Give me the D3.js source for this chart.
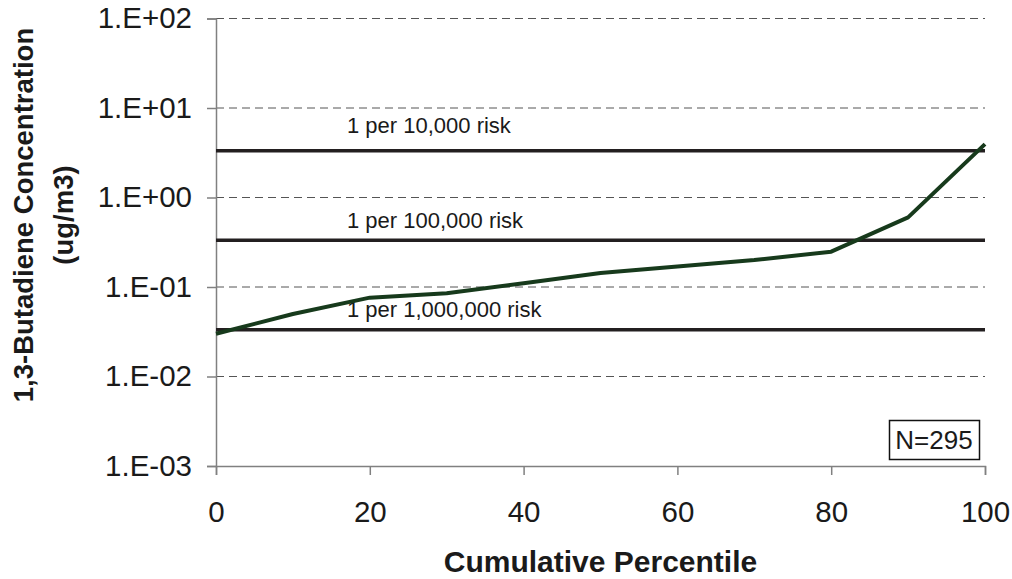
<!DOCTYPE html>
<html>
<head>
<meta charset="utf-8">
<script src="https://cdn.jsdelivr.net/npm/d3@7"></script>
<style>
  html, body { margin: 0; padding: 0; background: #fff; }
  svg { display: block; font-family: "Liberation Sans", Arial, sans-serif; }
</style>
</head>
<body>
<svg id="chart" width="1012" height="579"></svg>
<script>
// Cumulative distribution of 1,3-butadiene concentrations
const percentiles = [0, 10, 20, 30, 40, 50, 60, 70, 80, 90, 100];
const concentrations = [0.030, 0.050, 0.076, 0.085, 0.110, 0.143, 0.169, 0.200, 0.248, 0.60, 3.95];

// Cancer risk benchmark levels (ug/m3)
const riskLabels = ["1 per 10,000 risk", "1 per 100,000 risk", "1 per 1,000,000 risk"];
const riskLevels = [3.33, 0.333, 0.0333];
const riskLabelGap = [18, 12, 13];

const xTicks = [0, 20, 40, 60, 80, 100];
const yTicks = [1e-3, 1e-2, 1e-1, 1e0, 1e1, 1e2];
const yTickLabels = ["1.E-03", "1.E-02", "1.E-01", "1.E+00", "1.E+01", "1.E+02"];
const sampleNote = "N=295";

const svg = d3.select("#chart");
const plot = { left: 216, right: 985, top: 18.5, bottom: 466 };

const x = d3.scaleLinear().domain([0, 100]).range([plot.left, plot.right]);
const y = d3.scaleLog().domain([1e-3, 1e2]).range([plot.bottom, plot.top]);

// Dashed gridlines at each decade
svg.append("g")
  .selectAll("line")
  .data(yTicks.slice(1))
  .join("line")
  .attr("x1", plot.left).attr("x2", plot.right)
  .attr("y1", d => y(d)).attr("y2", d => y(d))
  .attr("stroke", "#555")
  .attr("stroke-width", 1)
  .attr("stroke-dasharray", "8,5");

// Y axis
const yAxis = svg.append("g")
  .attr("transform", `translate(${plot.left},0)`)
  .call(d3.axisLeft(y).tickValues(yTicks)
    .tickFormat((d, i) => yTickLabels[i]).tickSize(9).tickPadding(15));
yAxis.select(".domain").attr("stroke", "#808080").attr("stroke-width", 1.5);
yAxis.selectAll(".tick line").attr("stroke", "#808080").attr("stroke-width", 1.5);
yAxis.selectAll(".tick text")
  .attr("font-size", 29.5).attr("fill", "#1a1a1a")
  .attr("font-family", "Liberation Sans, Arial, sans-serif");

// X axis
const xAxis = svg.append("g")
  .attr("transform", `translate(0,${plot.bottom})`)
  .call(d3.axisBottom(x).tickValues(xTicks).tickSize(9).tickPadding(26));
xAxis.select(".domain").attr("stroke", "#808080").attr("stroke-width", 1.5);
xAxis.selectAll(".tick line").attr("stroke", "#808080").attr("stroke-width", 1.5);
xAxis.selectAll(".tick text")
  .attr("font-size", 29.5).attr("fill", "#1a1a1a")
  .attr("font-family", "Liberation Sans, Arial, sans-serif");

// Risk benchmark lines
svg.append("g")
  .selectAll("line")
  .data(riskLevels)
  .join("line")
  .attr("x1", plot.left).attr("x2", plot.right)
  .attr("y1", d => y(d)).attr("y2", d => y(d))
  .attr("stroke", "#231f20")
  .attr("stroke-width", 3.5);

svg.append("g")
  .selectAll("text")
  .data(riskLevels)
  .join("text")
  .attr("x", 347)
  .attr("y", (d, i) => y(d) - riskLabelGap[i])
  .attr("font-size", 22)
  .attr("fill", "#1a1a1a")
  .text((d, i) => riskLabels[i]);

// Concentration curve
const line = d3.line()
  .x((d, i) => x(percentiles[i]))
  .y(d => y(d));
svg.append("path")
  .datum(concentrations)
  .attr("d", line)
  .attr("fill", "none")
  .attr("stroke", "#173a1c")
  .attr("stroke-width", 4)
  .attr("stroke-linejoin", "round");

// Sample size box
svg.append("rect")
  .attr("x", 889.5).attr("y", 420.5)
  .attr("width", 90).attr("height", 39)
  .attr("fill", "#fff").attr("stroke", "#111").attr("stroke-width", 1.5);
svg.append("text")
  .attr("x", 934).attr("y", 449)
  .attr("text-anchor", "middle")
  .attr("font-size", 26)
  .attr("fill", "#1a1a1a")
  .text(sampleNote);

// Axis titles
svg.append("text")
  .attr("x", (plot.left + plot.right) / 2)
  .attr("y", 572)
  .attr("text-anchor", "middle")
  .attr("font-size", 30)
  .attr("font-weight", "bold")
  .attr("fill", "#1a1a1a")
  .text("Cumulative Percentile");

const yTitle = svg.append("text")
  .attr("transform", "translate(0,215) rotate(-90)")
  .attr("text-anchor", "middle")
  .attr("font-size", 27.5)
  .attr("font-weight", "bold")
  .attr("fill", "#1a1a1a");
yTitle.append("tspan").attr("x", 0).attr("y", 33).text("1,3-Butadiene Concentration");
yTitle.append("tspan").attr("x", 0).attr("y", 73).text("(ug/m3)");
</script>
</body>
</html>
